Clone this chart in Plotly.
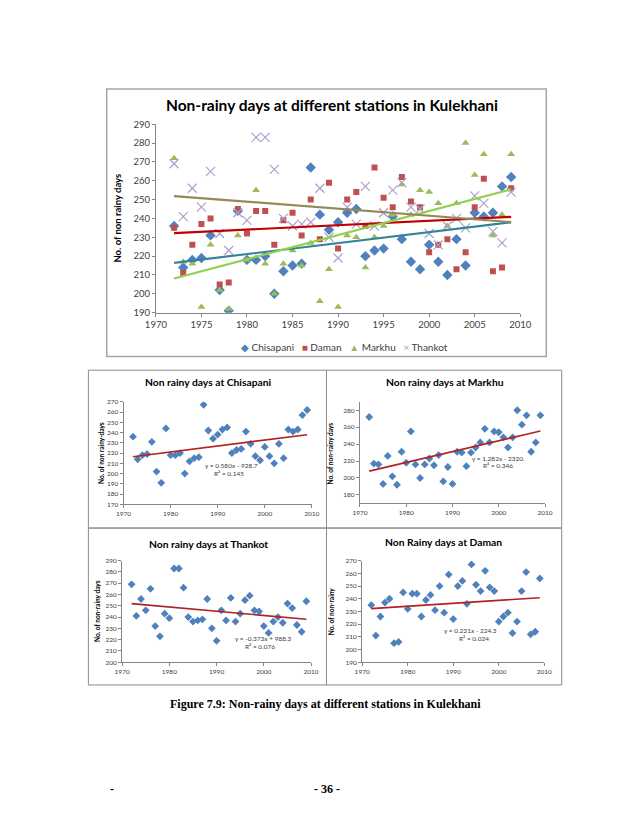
import numpy as np
import plotly.graph_objects as go

# ---------------- data ----------------
years = list(range(1972, 2010))
chisapani = [236, 214, 218, 219, 231, 202, 191, 244, 218, 218, 220, 200, 212, 215, 216, 267, 242, 234, 238,
             243, 245, 220, 223, 224, 241, 229, 217, 213, 226, 217, 210, 229, 215, 243, 241, 243, 257, 262]
daman = [235, 211, 226, 237, 240, 205, 206, 245, 232, 244, 244, 226, 239, 243, 231, 250, 229, 259, 224,
         250, 254, 236, 267, 251, 246, 262, 249, 246, 222, 226, 229, 213, 222, 246, 261, 212, 214, 256]
markhu = [272, 217, 216, 193, 226, 202, 192, 231, 218, 255, 216, 200, 216, 223, 215, 227, 196, 213, 193,
          231, 230, 214, 230, 236, 242, 258, 242, 255, 254, 248, 236, 248, 280, 263, 274, 231, 242, 274]
thankot = [269, 241, 256, 246, 265, 232, 223, 243, 239, 283, 283, 266, 240, 236, 237, 238, 256, 230, 219,
           246, 237, 257, 236, 243, 255, 259, 246, 245, 232, 226, 236, 240, 235, 252, 248, 233, 227, 254]

station_names = ["Chisapani", "Daman", "Markhu", "Thankot"]
legend_glyphs = ["◆", "■", "▲", "×"]
main_title = "Non-rainy days at different stations in Kulekhani"
main_ytitle = "No. of non rainy days"
small_titles = ["Non rainy days at Chisapani", "Non rainy days at Markhu",
                "Non rainy days at Thankot", "Non Rainy days at Daman"]
small_ytitles = ["No. of non rainy-days", "No. of non-rainy days", "No. of non-rainy days", "No. of non-rainy"]
equations = ["y = 0.580x - 928.7", "y = 1.282x - 2320.", "y = -0.373x + 988.3", "y = 0.231x - 224.3"]
r2_texts = ["R² = 0.145", "R² = 0.346", "R² = 0.076", "R² = 0.024"]
caption = "Figure 7.9: Non-rainy days at different stations in Kulekhani"
page_no = "- 36 -"

# ---------------- helpers ----------------
W, H = 638, 826
def px(x):
    return x / W
def py(y):
    return 1 - y / H

FONT = "Lato"
TXT = "#404040"
AX = "#868686"

def trend(vals):
    c = np.polyfit(years, vals, 1)
    xs = [years[0], years[-1]]
    return xs, list(np.polyval(c, xs))

fig = go.Figure()

# ---------------- main chart ----------------
series = [chisapani, daman, markhu, thankot]
mcolors = ["#4F81BD", "#C0504D", "#9BBB59", "#ABA0CC"]
msymbols = ["diamond", "square", "triangle-up", "x-thin"]
msizes = [8, 6, 7, 9]
tcolors = ["#31849B", "#C00000", "#92D050", "#948A54"]

for name, vals, col, sym, sz in zip(station_names, series, mcolors, msymbols, msizes):
    mk = dict(color=col, symbol=sym, size=sz)
    if sym == "x-thin":
        mk["line"] = dict(color=col, width=1.2)
    fig.add_trace(go.Scatter(x=years, y=vals, mode="markers", name=name, marker=mk,
                             showlegend=False, xaxis="x", yaxis="y"))
for vals, tc in zip(series, tcolors):
    xs, ys = trend(vals)
    fig.add_trace(go.Scatter(x=xs, y=ys, mode="lines", line=dict(color=tc, width=2.2),
                             showlegend=False, hoverinfo="skip", xaxis="x", yaxis="y"))

# ---------------- small charts ----------------
small_series = [chisapani, markhu, thankot, daman]
small_axes = ["2", "3", "4", "5"]
for vals, ax in zip(small_series, small_axes):
    fig.add_trace(go.Scatter(x=years, y=vals, mode="markers", showlegend=False,
                             marker=dict(color="#4F81BD", symbol="diamond", size=6),
                             xaxis="x" + ax, yaxis="y" + ax))
    xs, ys = trend(vals)
    fig.add_trace(go.Scatter(x=xs, y=ys, mode="lines", showlegend=False, hoverinfo="skip",
                             line=dict(color="#B22222", width=1.6),
                             xaxis="x" + ax, yaxis="y" + ax))

def xax(domain, size, dtick):
    return dict(domain=domain, range=[1970, 2010], dtick=dtick, showgrid=False, zeroline=False,
                showline=True, linecolor=AX, linewidth=1, ticks="outside", ticklen=3, tickcolor=AX,
                tickfont=dict(family=FONT, size=size, color=TXT), fixedrange=True)

def yax(domain, rng, dtick, size, anchor):
    return dict(domain=domain, range=rng, dtick=dtick, showgrid=False, zeroline=False,
                showline=True, linecolor=AX, linewidth=1, ticks="outside", ticklen=3, tickcolor=AX,
                tickfont=dict(family=FONT, size=size, color=TXT), anchor=anchor, fixedrange=True)

layout_axes = dict(
    xaxis=dict(xax([px(142), px(520)], 9.5, 5), anchor="y"),
    yaxis=yax([py(302.7), py(111.7)], [190, 290], 10, 9.5, "x"),
    xaxis2=dict(xax([px(108.5), px(303.8)], 6.5, 10), anchor="y2"),
    yaxis2=yax([py(497), py(393)], [170, 270], 10, 6.5, "x2"),
    xaxis3=dict(xax([px(353.7), px(545.7)], 6.5, 10), anchor="y3"),
    yaxis3=yax([py(496), py(393)], [170, 290], 20, 6.5, "x3"),
    xaxis4=dict(xax([px(107), px(303)], 6.5, 10), anchor="y4"),
    yaxis4=yax([py(657), py(554)], [200, 290], 10, 6.5, "x4"),
    xaxis5=dict(xax([px(356), px(545)], 6.5, 10), anchor="y5"),
    yaxis5=yax([py(657), py(554)], [190, 270], 10, 6.5, "x5"),
)

ann = []
def text(x, y, s, size, bold=False, angle=0, family=FONT, color="#000000", xanchor="center"):
    ann.append(dict(x=px(x), y=py(y), xref="paper", yref="paper", text=("<b>%s</b>" % s) if bold else s,
                    showarrow=False, textangle=angle, xanchor=xanchor, yanchor="middle",
                    font=dict(family=family, size=size, color=color)))

# main title & axis title
text(325, 92, main_title, 15.5, bold=True)
text(102, 207, main_ytitle, 9.5, bold=True, angle=-90)

# legend (text based, compact like the original)
legend_html = "   ".join(
    "<span style='color:%s'>%s</span> %s" % (c, g, n)
    for c, g, n in zip(["#4F81BD", "#C0504D", "#9BBB59", "#A99BC9"], legend_glyphs, station_names)
)
text(338, 337, legend_html, 10, color=TXT)

# small titles / axis titles / equations
text(197, 373, small_titles[0], 10.3, bold=True)
text(442, 373, small_titles[1], 10.3, bold=True)
text(197, 537, small_titles[2], 10.3, bold=True)
text(440, 535, small_titles[3], 10.3, bold=True)

text(85, 445, small_ytitles[0], 6.5, bold=True, angle=-90)
text(323, 445, small_ytitles[1], 6.5, bold=True, angle=-90)
text(82, 605, small_ytitles[2], 6.5, bold=True, angle=-90)
text(325, 605, small_ytitles[3], 6.5, bold=True, angle=-90)

text(220, 458, equations[0], 6.5, color=TXT)
text(218, 466, r2_texts[0], 6.5, color=TXT)
text(497, 450, equations[1], 6.5, color=TXT)
text(497, 457.5, r2_texts[1], 6.5, color=TXT)
text(253, 633, equations[2], 6.5, color=TXT)
text(250, 641, r2_texts[2], 6.5, color=TXT)
text(468, 625, equations[3], 6.5, color=TXT)
text(472, 632.5, r2_texts[3], 6.5, color=TXT)

# caption and footer
text(318, 699, caption, 12, bold=True, family="Liberation Serif")
text(96, 785, "-", 12, bold=True, family="Liberation Serif")
text(320, 785, page_no, 12, bold=True, family="Liberation Serif")

shapes = [
    dict(type="rect", xref="paper", yref="paper", x0=px(91), x1=px(547), y0=py(347), y1=py(76),
         line=dict(color="#A6A6A6", width=1.5)),
]
for (x0, y0, x1, y1) in [(72, 361, 319, 521), (319, 361, 563, 521), (72, 521, 319, 680), (319, 521, 563, 680)]:
    shapes.append(dict(type="rect", xref="paper", yref="paper", x0=px(x0), x1=px(x1), y0=py(y1), y1=py(y0),
                       line=dict(color="#8C8C8C", width=1)))

fig.update_layout(
    width=W, height=H, margin=dict(l=0, r=0, t=0, b=0),
    paper_bgcolor="white", plot_bgcolor="white",
    showlegend=False,
    annotations=ann, shapes=shapes,
    **layout_axes,
)

fig.write_html("out.html")
